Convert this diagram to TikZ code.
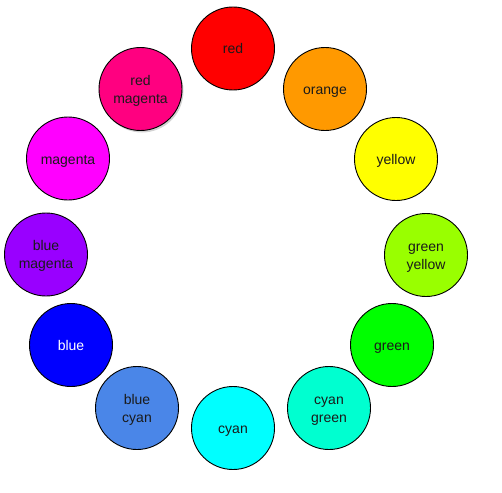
\documentclass[tikz,border=0pt]{standalone}
\usepackage{fontspec}
\setmainfont{Liberation Sans}
\usetikzlibrary{shadows,calc}
\definecolor{cRed}{HTML}{FF0000}
\definecolor{cOrange}{HTML}{FF9900}
\definecolor{cYellow}{HTML}{FFFF00}
\definecolor{cGreenYellow}{HTML}{99FF00}
\definecolor{cGreen}{HTML}{00FF00}
\definecolor{cCyanGreen}{HTML}{00FFD0}
\definecolor{cCyan}{HTML}{00FFFF}
\definecolor{cBlueCyan}{HTML}{4A86E8}
\definecolor{cBlue}{HTML}{0000FF}
\definecolor{cBlueMagenta}{HTML}{9900FF}
\definecolor{cMagenta}{HTML}{FF00FF}
\definecolor{cRedMagenta}{HTML}{FF0080}
\definecolor{cText}{HTML}{1A1A1A}
\tikzset{
  hue/.style={circle, draw=black, line width=0.9pt, minimum size=83pt, inner sep=0pt},
  lbl/.style={anchor=base, inner sep=0pt, font=\fontsize{14}{18}\selectfont, text=cText},
}
\begin{document}
\begin{tikzpicture}[x=1pt,y=-1pt]
\useasboundingbox (0,0) rectangle (502,492);
\node[hue, fill=cRed] (red) at (233,48.5) {};
\node[hue, fill=cOrange] (orange) at (325,89) {};
\node[hue, fill=cYellow] (yellow) at (396,159) {};
\node[hue, fill=cGreenYellow] (greenyellow) at (426,255) {};
\node[hue, fill=cGreen] (green) at (392,345) {};
\node[hue, fill=cCyanGreen] (cyangreen) at (329,408) {};
\node[hue, fill=cCyan] (cyan) at (233,428) {};
\node[hue, fill=cBlueCyan] (bluecyan) at (137,408) {};
\node[hue, fill=cBlue] (blue) at (71,345) {};
\node[hue, fill=cBlueMagenta] (bluemagenta) at (46,254.5) {};
\node[hue, fill=cMagenta] (magenta) at (68,158.5) {};
\node[hue, fill=cRedMagenta, drop shadow={shadow xshift=1.5pt, shadow yshift=-2pt, opacity=0.35}] (redmagenta) at (140.5,89) {};
% single-line labels
\node[lbl] (t-red) at ($(red)+(0,5.5)$) {red};
\node[lbl] (t-orange) at ($(orange)+(0,5.5)$) {orange};
\node[lbl] (t-yellow) at ($(yellow)+(0,5.5)$) {yellow};
\node[lbl] (t-green) at ($(green)+(0,5.5)$) {green};
\node[lbl] (t-cyan) at ($(cyan)+(0,5.5)$) {cyan};
\node[lbl, text=white] (t-blue) at ($(blue)+(0,5.5)$) {blue};
\node[lbl] (t-magenta) at ($(magenta)+(0,5.5)$) {magenta};
% two-line labels
\node[lbl] (t-greenyellow1) at ($(greenyellow)+(0,-3.6)$) {green};
\node[lbl] (t-greenyellow2) at ($(greenyellow)+(0,14.4)$) {yellow};
\node[lbl] (t-cyangreen1) at ($(cyangreen)+(0,-3.6)$) {cyan};
\node[lbl] (t-cyangreen2) at ($(cyangreen)+(0,14.4)$) {green};
\node[lbl] (t-bluecyan1) at ($(bluecyan)+(0,-3.6)$) {blue};
\node[lbl] (t-bluecyan2) at ($(bluecyan)+(0,14.4)$) {cyan};
\node[lbl] (t-bluemagenta1) at ($(bluemagenta)+(0,-3.6)$) {blue};
\node[lbl] (t-bluemagenta2) at ($(bluemagenta)+(0,14.4)$) {magenta};
\node[lbl] (t-redmagenta1) at ($(redmagenta)+(0,-3.6)$) {red};
\node[lbl] (t-redmagenta2) at ($(redmagenta)+(0,14.4)$) {magenta};
\end{tikzpicture}
\end{document}
